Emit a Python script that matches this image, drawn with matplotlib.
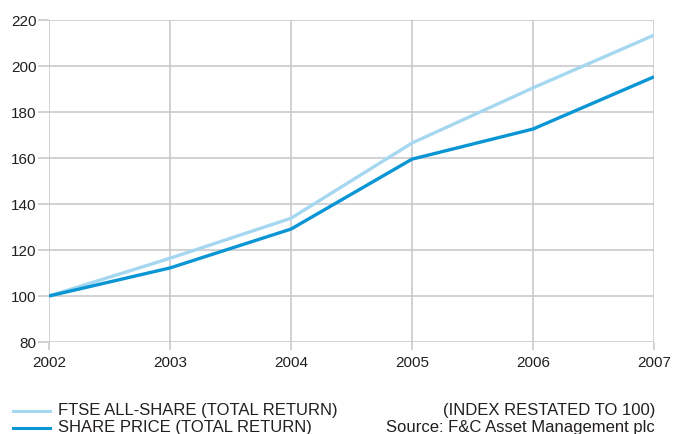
import matplotlib
matplotlib.use("Agg")
import matplotlib.pyplot as plt
from matplotlib.lines import Line2D

years = [2002, 2003, 2004, 2005, 2006, 2007]
ftse_all_share = [100, 116.4, 133.8, 166.5, 190.5, 213.4]
share_price = [100, 112.2, 129.1, 159.5, 172.6, 195.3]
y_ticks = [80, 100, 120, 140, 160, 180, 200, 220]

series_labels = ["FTSE ALL-SHARE (TOTAL RETURN)", "SHARE PRICE (TOTAL RETURN)"]
note_labels = ["(INDEX RESTATED TO 100)", "Source: F&C Asset Management plc"]

light_blue = "#a5d8f0"
dark_blue = "#0a96d4"
grid_gray = "#c6c6ca"
text_color = "#231f20"

plt.rcParams['font.family'] = ['Liberation Sans', 'DejaVu Sans']

fig = plt.figure(figsize=(6.75, 4.34), dpi=100)
ax = fig.add_axes([49/675, 1 - 342/434, (654-49)/675, (342-20)/434])

ax.plot(years, ftse_all_share, color=light_blue, lw=2.4, solid_capstyle='butt', zorder=3)
ax.plot(years, share_price, color=dark_blue, lw=2.4, solid_capstyle='butt', zorder=4)

ax.set_xlim(years[0], years[-1])
ax.set_ylim(y_ticks[0], y_ticks[-1])
ax.set_xticks(years)
ax.set_yticks(y_ticks)
ax.grid(True, color=grid_gray, lw=1.1, zorder=1)
for s in ax.spines.values():
    s.set_visible(False)
ax.tick_params(axis='y', length=8, width=1.1, color=grid_gray, labelsize=11, labelcolor=text_color, pad=1)
ax.tick_params(axis='x', length=6, width=1.1, color=grid_gray, labelsize=11, labelcolor=text_color, pad=4)

# Legend
ly1, ly2 = 1 - 411/434, 1 - 427.5/434
fig.add_artist(Line2D([13/675, 50/675], [ly1, ly1], color=light_blue, lw=2.2, transform=fig.transFigure))
fig.add_artist(Line2D([13/675, 50/675], [ly2, ly2], color=dark_blue, lw=2.2, transform=fig.transFigure))
fs = 12
fig.text(58/675, ly1, series_labels[0], fontsize=fs, color=text_color, va='center', ha='left')
fig.text(58/675, ly2, series_labels[1], fontsize=fs, color=text_color, va='center', ha='left')
fig.text(655/675, ly1, note_labels[0], fontsize=fs, color=text_color, va='center', ha='right')
fig.text(655/675, ly2, note_labels[1], fontsize=fs, color=text_color, va='center', ha='right')

fig.savefig("out.png", dpi=100)
